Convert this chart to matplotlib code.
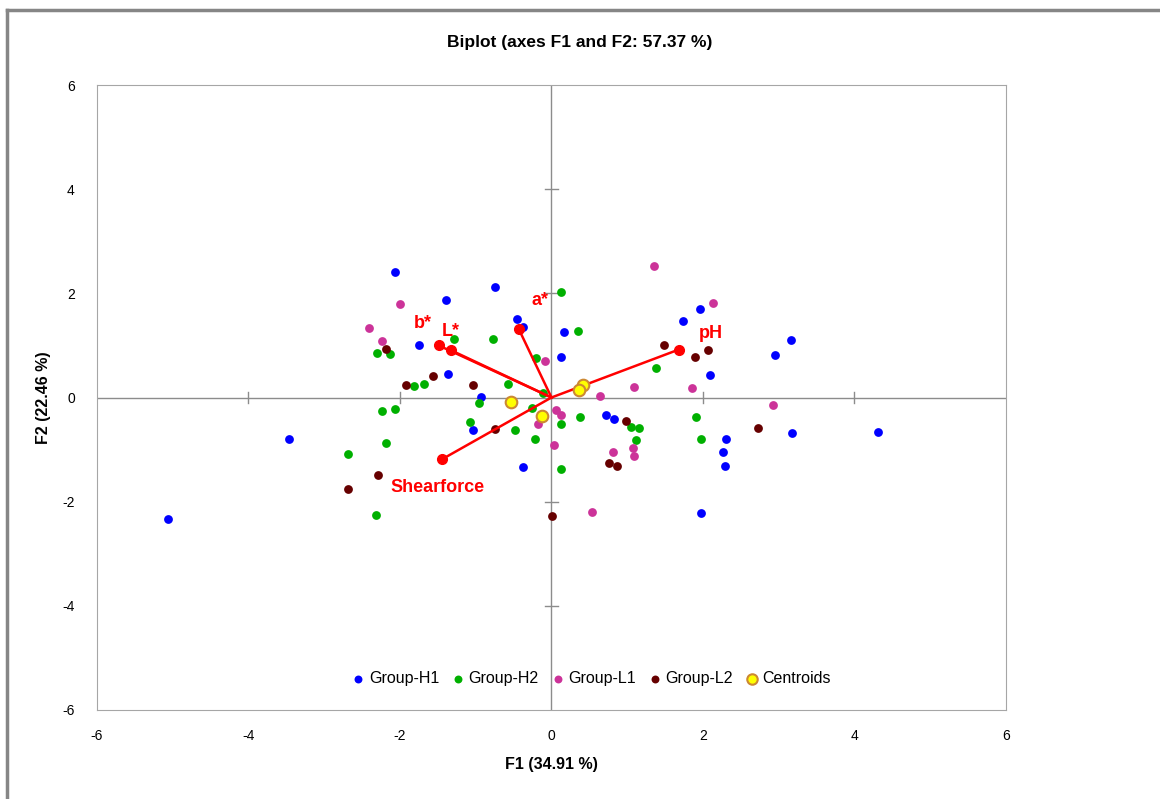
import matplotlib
matplotlib.use("Agg")
import matplotlib.pyplot as plt
from matplotlib.lines import Line2D

plt.rcParams['font.family'] = ['Liberation Sans', 'DejaVu Sans']
plt.rcParams['axes.unicode_minus'] = False

# observations (F1, F2)
h1_x = [-2.07, -1.75, -3.47, -5.06, -0.74, -1.39, 1.96, 1.73, -0.45, -0.37, 0.17, 0.13, 2.09, -1.36,
        -0.93, 0.72, 0.83, -1.03, -0.37, 1.97, 3.16, 2.95, 3.17, 4.31, 2.31, 2.26, 2.29]
h1_y = [2.41, 1.00, -0.80, -2.33, 2.12, 1.87, 1.70, 1.46, 1.50, 1.35, 1.26, 0.78, 0.44, 0.46,
        0.01, -0.33, -0.42, -0.62, -1.33, -2.22, 1.10, 0.82, -0.68, -0.67, -0.80, -1.05, -1.31]

h2_x = [-2.30, -2.13, -1.68, -1.81, -2.24, -2.07, -2.19, -2.69, -2.31, 0.12, 0.35, -1.29, -0.77, -0.20, 1.38,
        -0.58, -0.11, -0.96, -0.26, 0.38, -1.08, 0.12, -0.48, 1.05, 1.15, -0.22, 1.12, 0.13, 1.91, 1.97]
h2_y = [0.86, 0.84, 0.26, 0.22, -0.25, -0.23, -0.87, -1.08, -2.25, 2.02, 1.27, 1.12, 1.13, 0.75, 0.56,
        0.26, 0.08, -0.10, -0.20, -0.38, -0.47, -0.51, -0.63, -0.56, -0.58, -0.80, -0.82, -1.37, -0.37, -0.80]

l1_x = [-2.00, -2.41, -2.24, 1.36, 2.13, -0.09, 1.09, 1.85, 0.64, 0.06, 0.12, -0.18, 0.04, 1.07, 0.81, 1.09, 0.54, 2.92]
l1_y = [1.80, 1.33, 1.09, 2.52, 1.82, 0.71, 0.20, 0.19, 0.02, -0.24, -0.34, -0.51, -0.92, -0.96, -1.05, -1.13, -2.20, -0.14]

l2_x = [-2.18, -1.57, -1.92, -2.29, -2.69, 1.48, 2.06, 1.90, -1.03, -0.74, 0.98, 0.76, 0.86, 0.01, 2.73]
l2_y = [0.93, 0.42, 0.24, -1.49, -1.76, 1.00, 0.91, 0.77, 0.24, -0.60, -0.45, -1.26, -1.31, -2.28, -0.58]

cent_x = [0.41, 0.37, -0.54, -0.13]
cent_y = [0.24, 0.14, -0.08, -0.35]

# variable vectors
var_names = ['b*', 'L*', 'a*', 'pH', 'Shearforce']
var_x = [-1.49, -1.33, -0.43, 1.68, -1.45]
var_y = [1.00, 0.91, 1.31, 0.92, -1.19]
lab_x = [-1.70, -1.33, -0.15, 2.10, -1.51]
lab_y = [1.43, 1.26, 1.87, 1.22, -1.73]

fig = plt.figure(figsize=(11.6, 7.99), dpi=100)
ax = fig.add_axes([0.0836, 0.1114, 0.7836, 0.7822])
ax.set_xlim(-6, 6)
ax.set_ylim(-6, 6)

# zero axes with cross ticks
ax.axhline(0, color='#8c8c8c', lw=1, zorder=1)
ax.axvline(0, color='#8c8c8c', lw=1, zorder=1)
for t in [-4, -2, 2, 4]:
    ax.plot([t, t], [-0.1, 0.1], color='#8c8c8c', lw=1, zorder=1)
    ax.plot([-0.09, 0.09], [t, t], color='#8c8c8c', lw=1, zorder=1)

ax.scatter(h1_x, h1_y, s=40, color='#0000ff', lw=0, zorder=3, label='Group-H1')
ax.scatter(h2_x, h2_y, s=40, color='#00b000', lw=0, zorder=3, label='Group-H2')
ax.scatter(l1_x, l1_y, s=40, color='#cc3399', lw=0, zorder=3, label='Group-L1')
ax.scatter(l2_x, l2_y, s=40, color='#660000', lw=0, zorder=3, label='Group-L2')

for i, name in enumerate(var_names):
    ax.plot([0, var_x[i]], [0, var_y[i]], color='#ff0000', lw=1.8, zorder=4)
    ax.plot(var_x[i], var_y[i], 'o', color='#ff0000', ms=7, zorder=4)
    ax.text(lab_x[i], lab_y[i], name, color='#ff0000', fontsize=13, fontweight='bold',
            ha='center', va='center', zorder=5)

ax.scatter(cent_x, cent_y, s=70, color='#ffff00', edgecolor='#cc8833', lw=1.5, zorder=5, label='Centroids')

for s in ax.spines.values():
    s.set_color('#a6a6a6')
ax.set_xticks([-6, -4, -2, 0, 2, 4, 6])
ax.set_yticks([-6, -4, -2, 0, 2, 4, 6])
ax.tick_params(length=0, labelsize=10, pad=14)
ax.tick_params(axis='y', pad=16)

ax.set_xlabel('F1 (34.91 %)', fontsize=11.5, fontweight='bold', labelpad=10)
ax.set_ylabel('F2 (22.46 %)', fontsize=11.5, fontweight='bold', labelpad=8)
fig.text(0.5, 0.947, 'Biplot (axes F1 and F2: 57.37 %)', fontsize=12.5, fontweight='bold', ha='center', va='center')

ax.legend(loc='lower center', bbox_to_anchor=(0.545, 0.025), ncol=5, frameon=False, fontsize=11.5,
          handlelength=0.6, handletextpad=0.35, columnspacing=0.9, markerscale=0.9, scatterpoints=1,
          borderpad=0)

# outer chart border
fig.add_artist(Line2D([7 / 1160, 7 / 1160], [0, 1 - 10 / 799], color='#868686', lw=2.5))
fig.add_artist(Line2D([7 / 1160, 1], [1 - 10 / 799, 1 - 10 / 799], color='#868686', lw=2.5))

fig.savefig('out.png', dpi=100)
